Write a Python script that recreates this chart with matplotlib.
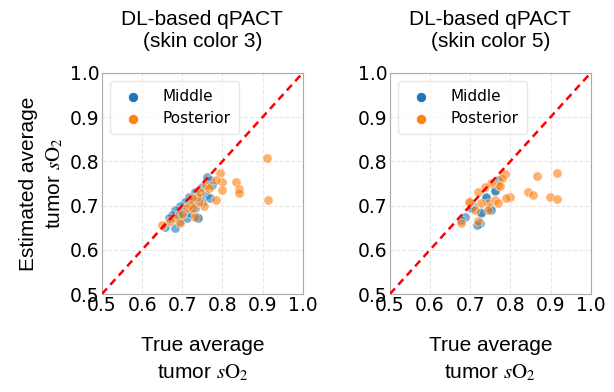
import matplotlib
matplotlib.use("Agg")
import matplotlib.pyplot as plt

# skin color 3
mid3_true = [0.762, 0.770, 0.774, 0.749, 0.758, 0.733, 0.716, 0.708, 0.695, 0.683,
             0.674, 0.666, 0.658, 0.683, 0.695, 0.712, 0.720, 0.737, 0.733, 0.749,
             0.770, 0.741, 0.724, 0.703, 0.691, 0.739, 0.728]
mid3_est = [0.765, 0.758, 0.747, 0.743, 0.724, 0.731, 0.720, 0.709, 0.698, 0.690,
            0.679, 0.671, 0.652, 0.649, 0.664, 0.671, 0.683, 0.675, 0.694, 0.709,
            0.717, 0.717, 0.701, 0.686, 0.679, 0.672, 0.712]
post3_true = [0.795, 0.799, 0.799, 0.783, 0.758, 0.766, 0.783, 0.753, 0.741, 0.737,
              0.724, 0.720, 0.733, 0.712, 0.683, 0.695, 0.670, 0.649, 0.745, 0.910,
              0.913, 0.833, 0.841, 0.841, 0.728, 0.700]
post3_est = [0.773, 0.754, 0.735, 0.758, 0.747, 0.739, 0.713, 0.698, 0.709, 0.720,
             0.717, 0.701, 0.675, 0.694, 0.671, 0.660, 0.664, 0.656, 0.731, 0.807,
             0.713, 0.754, 0.737, 0.728, 0.694, 0.680]

# skin color 5
mid5_true = [0.769, 0.761, 0.740, 0.728, 0.749, 0.707, 0.687, 0.678, 0.724, 0.716,
             0.739, 0.753, 0.726, 0.701, 0.763]
mid5_est = [0.758, 0.735, 0.717, 0.686, 0.694, 0.698, 0.675, 0.667, 0.660, 0.656,
            0.719, 0.691, 0.684, 0.694, 0.733]
post5_true = [0.786, 0.778, 0.769, 0.753, 0.736, 0.720, 0.699, 0.745, 0.761, 0.769,
              0.745, 0.711, 0.799, 0.790, 0.678, 0.720, 0.844, 0.866, 0.916, 0.857,
              0.898, 0.915, 0.697, 0.728, 0.774]
post5_est = [0.771, 0.762, 0.747, 0.750, 0.743, 0.731, 0.709, 0.705, 0.713, 0.705,
             0.690, 0.690, 0.720, 0.717, 0.660, 0.664, 0.731, 0.767, 0.774, 0.724,
             0.720, 0.714, 0.709, 0.705, 0.744]

panels = [
    ("DL-based qPACT\n(skin color 3)", mid3_true, mid3_est, post3_true, post3_est),
    ("DL-based qPACT\n(skin color 5)", mid5_true, mid5_est, post5_true, post5_est),
]
ticks = [0.5, 0.6, 0.7, 0.8, 0.9, 1.0]

plt.rcParams["mathtext.fontset"] = "stix"
label_font = "Liberation Sans"

fig = plt.figure(figsize=(6.14, 3.92), dpi=100)
lefts = [0.166, 0.635]

for i, (title, mt, me, pt, pe) in enumerate(panels):
    ax = fig.add_axes([lefts[i], 0.25, 0.327, 0.564])
    ax.scatter(mt, me, s=45, color="tab:blue", alpha=0.6, edgecolor="white",
               linewidth=0.6, label="Middle", zorder=3)
    ax.scatter(pt, pe, s=45, color="tab:orange", alpha=0.6, edgecolor="white",
               linewidth=0.6, label="Posterior", zorder=3)
    ax.plot([0.5, 1.0], [0.5, 1.0], "r--", lw=1.8, dashes=(3, 2), zorder=4)
    ax.set_xlim(0.5, 1.0)
    ax.set_ylim(0.5, 1.0)
    ax.set_xticks(ticks)
    ax.set_yticks(ticks)
    ax.tick_params(labelsize=13.5, length=0, pad=1.5)
    ax.grid(True, color="#e6e6e6", lw=0.8, ls="--")
    ax.set_axisbelow(True)
    for sp in ax.spines.values():
        sp.set_color("#aaaaaa")
    ax.set_title(title, fontsize=15, family=label_font, pad=19, linespacing=1.15)
    ax.set_xlabel("True average\ntumor $s\\mathrm{O}_2$", fontsize=15,
                  family=label_font, labelpad=15, linespacing=1.45)
    if i == 0:
        ax.set_ylabel("Estimated average\ntumor $s\\mathrm{O}_2$", fontsize=15,
                      family=label_font, labelpad=4, linespacing=1.4)
    leg = ax.legend(loc="upper left", fontsize=11, markerscale=1.1,
                    borderpad=0.55, handletextpad=0.9, labelspacing=0.45,
                    borderaxespad=0.5)
    leg.get_frame().set_edgecolor("#e0e0e0")
    for h in leg.legend_handles:
        h.set_alpha(1)

fig.savefig("out.png", dpi=100)
